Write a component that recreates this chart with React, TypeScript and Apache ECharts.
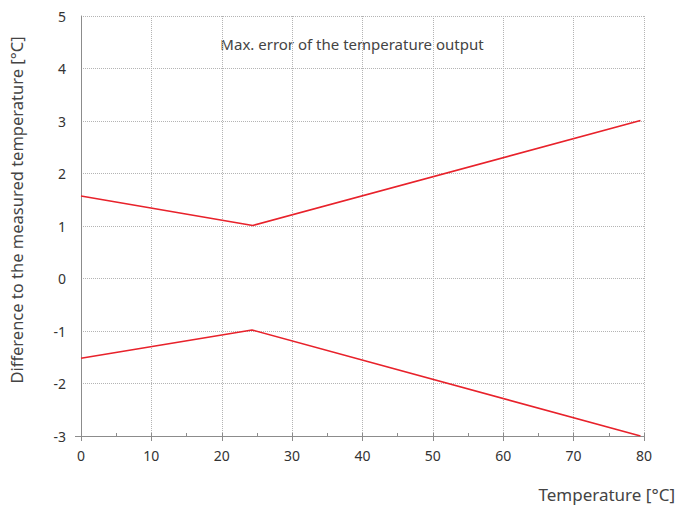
import React, { useEffect, useRef } from "react";
import * as echarts from "echarts";

const upperX = [0, 24.4, 79.5];
const upperY = [1.57, 1.01, 3.01];
const lowerX = [0, 24.3, 79.5];
const lowerY = [-1.52, -0.98, -3.0];
const xTicks = [0, 10, 20, 30, 40, 50, 60, 70, 80];
const yTicks = [-3, -2, -1, 0, 1, 2, 3, 4, 5];
const titleText = "Max. error of the temperature output";
const xName = "Temperature [°C]";
const yName = "Difference to the measured temperature [°C]";

const FONT = "'Noto Sans', 'Open Sans', sans-serif";

export default function App() {
  const ref = useRef<HTMLDivElement>(null);
  useEffect(() => {
    if (!ref.current) return;
    const chart = echarts.init(ref.current, null, { renderer: "svg" });
    const upper = upperX.map((x, i) => [x, upperY[i]]);
    const lower = lowerX.map((x, i) => [x, lowerY[i]]);
    chart.setOption({
      animation: false,
      backgroundColor: "#fff",
      textStyle: { fontFamily: FONT },
      grid: { left: 81, right: 33, top: 16, bottom: 71 },
      xAxis: [
        {
          type: "value",
          min: xTicks[0],
          max: xTicks[xTicks.length - 1],
          interval: 10,
          axisLine: { show: true, onZero: false, lineStyle: { color: "#8c8c8c", width: 1 } },
          axisTick: { show: true, length: 5, lineStyle: { color: "#8c8c8c" } },
          axisLabel: { color: "#333", fontSize: 14, margin: 12, fontFamily: FONT },
          splitLine: { show: true, lineStyle: { color: "#b4b4b4", type: [1, 1], width: 1 } },
        },
        {
          type: "value",
          min: xTicks[0],
          max: xTicks[xTicks.length - 1],
          interval: 5,
          position: "bottom",
          axisLine: { show: false, onZero: false },
          axisTick: { show: true, inside: true, length: 3, lineStyle: { color: "#8c8c8c" } },
          axisLabel: { show: false },
          splitLine: { show: false },
        },
      ],
      yAxis: {
        type: "value",
        min: yTicks[0],
        max: yTicks[yTicks.length - 1],
        interval: 1,
        axisLine: { show: true, onZero: false, lineStyle: { color: "#8c8c8c", width: 1 } },
        axisTick: { show: false },
        axisLabel: { color: "#333", fontSize: 14, margin: 15, fontFamily: FONT },
        splitLine: { show: true, lineStyle: { color: "#b4b4b4", type: [1, 1], width: 1 } },
      },
      graphic: [
        {
          type: "line",
          shape: { x1: 75, y1: 436.5, x2: 81, y2: 436.5 },
          style: { stroke: "#8c8c8c", lineWidth: 1 },
        },
        {
          type: "text",
          x: 16,
          y: 210,
          rotation: Math.PI / 2,
          style: {
            text: yName,
            fill: "#444",
            font: `16.5px ${FONT}`,
            textAlign: "center",
            textVerticalAlign: "middle",
          },
        },
        {
          type: "text",
          x: 352,
          y: 44,
          style: {
            text: titleText,
            fill: "#444",
            font: `15px ${FONT}`,
            textAlign: "center",
            textVerticalAlign: "middle",
          },
        },
        {
          type: "text",
          x: 675,
          y: 494,
          style: {
            text: xName,
            fill: "#444",
            font: `17px ${FONT}`,
            textAlign: "right",
            textVerticalAlign: "middle",
          },
        },
      ],
      series: [
        {
          type: "line",
          data: upper,
          showSymbol: false,
          symbol: "none",
          lineStyle: { color: "#e8222b", width: 1.6 },
        },
        {
          type: "line",
          data: lower,
          showSymbol: false,
          symbol: "none",
          lineStyle: { color: "#e8222b", width: 1.6 },
        },
      ],
    });
    return () => chart.dispose();
  }, []);
  return <div ref={ref} style={{ width: 677, height: 507, position: "fixed", left: 0, top: 0 }} />;
}
